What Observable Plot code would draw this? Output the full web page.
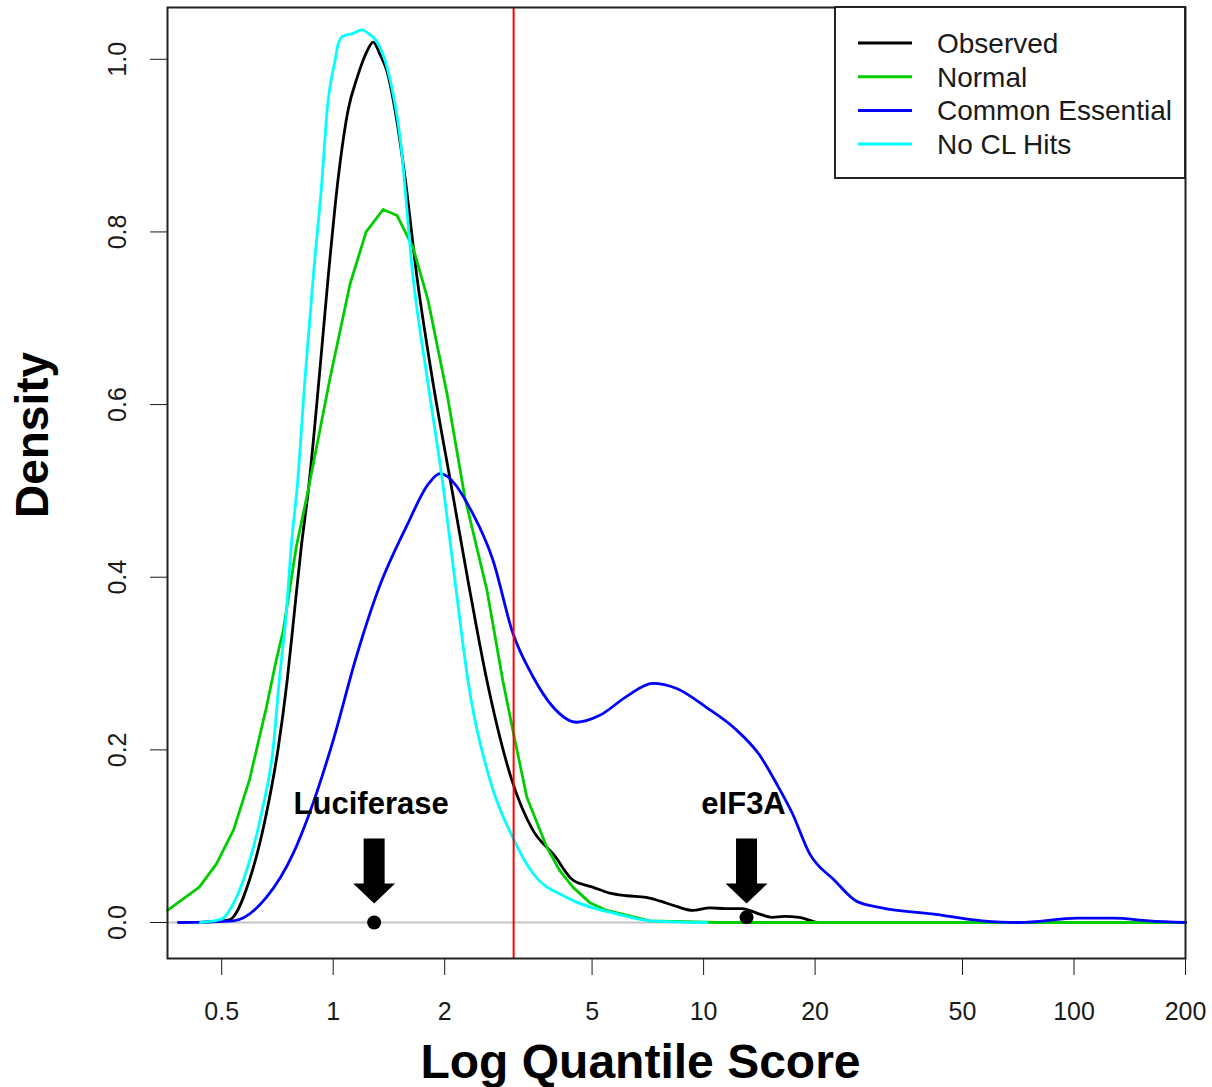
<!DOCTYPE html>
<html><head><meta charset="utf-8">
<script src="https://cdn.jsdelivr.net/npm/d3@7"></script>
<script src="https://cdn.jsdelivr.net/npm/@observablehq/plot@0.6"></script>
<style>body{margin:0;background:#fff;} #chart{width:1212px;height:1087px;}</style>
</head><body><div id="chart"></div>
<script>
// ---- data ----
const xTicks = [0.5, 1, 2, 5, 10, 20, 50, 100, 200];
const yTicks = [0, 0.2, 0.4, 0.6, 0.8, 1.0];
const xTitle = "Log Quantile Score";
const yTitle = "Density";
const seriesNames = ["Observed", "Normal", "Common Essential", "No CL Hits"];
const seriesColors = ["#000000", "#00CD00", "#0000FF", "#00FFFF"];

const observedX = [0.44, 0.524, 0.594, 0.660, 0.711, 0.751, 0.785, 0.820, 0.857, 0.917, 0.969, 1.032, 1.097, 1.161, 1.23, 1.282, 1.34, 1.399, 1.469, 1.563, 1.684, 1.849, 2.093, 2.312, 2.601, 3.036, 3.460, 3.95, 4.44, 5.02, 5.58, 6.2, 7.0, 7.6, 8.4, 9.34, 10.4, 11.5, 12.7, 14.1, 15.3, 16.5, 18.1, 20.5, 30, 60, 120, 200];
const observedY = [0, 0.003, 0.049, 0.126, 0.203, 0.280, 0.358, 0.435, 0.501, 0.632, 0.747, 0.863, 0.941, 0.979, 1.008, 1.020, 1.005, 0.985, 0.941, 0.863, 0.747, 0.632, 0.501, 0.396, 0.280, 0.165, 0.107, 0.078, 0.049, 0.041, 0.034, 0.031, 0.029, 0.025, 0.019, 0.014, 0.017, 0.016, 0.016, 0.010, 0.006, 0.007, 0.006, 0, 0, 0, 0, 0];

const normalX = [0.357, 0.435, 0.484, 0.538, 0.594, 0.660, 0.702, 0.733, 0.795, 0.856, 0.982, 1.111, 1.227, 1.364, 1.488, 1.643, 1.803, 2.028, 2.268, 2.601, 2.871, 3.095, 3.333, 3.775, 4.09, 4.436, 4.93, 5.48, 7.15, 11.0, 200];
const normalY = [0.014, 0.041, 0.068, 0.107, 0.165, 0.249, 0.304, 0.338, 0.435, 0.501, 0.632, 0.740, 0.800, 0.826, 0.819, 0.782, 0.721, 0.613, 0.492, 0.385, 0.280, 0.211, 0.145, 0.087, 0.060, 0.041, 0.023, 0.014, 0.002, 0, 0];

const commonX = [0.382, 0.538, 0.660, 0.780, 0.862, 1.0, 1.153, 1.330, 1.574, 1.814, 1.941, 2.38, 2.699, 3.056, 3.460, 3.917, 4.545, 5.245, 6.20, 7.29, 8.46, 10.19, 12.12, 14.16, 15.73, 17.38, 19.31, 22.55, 25.8, 30.3, 41.4, 56.5, 71.1, 102.5, 127.4, 159.2, 200];
const commonY = [0, 0.002, 0.029, 0.080, 0.126, 0.211, 0.307, 0.388, 0.458, 0.509, 0.520, 0.474, 0.420, 0.335, 0.285, 0.250, 0.232, 0.240, 0.262, 0.277, 0.271, 0.249, 0.225, 0.194, 0.161, 0.126, 0.080, 0.049, 0.025, 0.017, 0.010, 0.002, 0, 0.005, 0.005, 0.002, 0];

const noHitsX = [0.438, 0.50, 0.538, 0.572, 0.640, 0.689, 0.715, 0.747, 0.770, 0.800, 0.840, 0.883, 0.934, 0.963, 1.012, 1.032, 1.064, 1.132, 1.197, 1.243, 1.314, 1.399, 1.52, 1.643, 1.792, 1.980, 2.132, 2.312, 2.650, 3.056, 3.460, 4.27, 5.83, 7.15, 10.19];
const noHitsY = [0, 0.004, 0.022, 0.049, 0.126, 0.203, 0.280, 0.358, 0.435, 0.506, 0.632, 0.747, 0.863, 0.941, 0.999, 1.018, 1.027, 1.030, 1.034, 1.030, 1.020, 0.990, 0.905, 0.747, 0.632, 0.506, 0.396, 0.280, 0.165, 0.098, 0.057, 0.029, 0.010, 0.002, 0];

const threshold = 3.07;
const annotLabels = ["Luciferase", "eIF3A"];
const annotX = [1.29, 13.06];
const annotY = [0, 0.006];

// ---- build ----
const rows = (xs, ys) => xs.map((x, i) => ({x, y: ys[i]}));
const seriesData = [rows(observedX, observedY), rows(normalX, normalY), rows(commonX, commonY), rows(noHitsX, noHitsY)];
const seriesCurves = ["monotone-x", "linear", "monotone-x", "monotone-x"];
const annots = annotLabels.map((label, i) => ({label, x: annotX[i], y: annotY[i]}));

const arrowSymbol = {
  draw(ctx) {
    ctx.moveTo(-10.5, -65);
    ctx.lineTo(10.5, -65);
    ctx.lineTo(10.5, -20);
    ctx.lineTo(21, -20);
    ctx.lineTo(0, 0);
    ctx.lineTo(-21, -20);
    ctx.lineTo(-10.5, -20);
    ctx.closePath();
  }
};

const W = 1212, H = 1087;
const mL = 167, mR = 27, mT = 7, mB = 129;
const font = "'Liberation Sans', Arial, Helvetica, sans-serif";

const plot = Plot.plot({
  width: W, height: H,
  marginLeft: mL, marginRight: mR, marginTop: mT, marginBottom: mB,
  style: {fontFamily: font, fontSize: "25px", color: "#1a1a1a", background: "white"},
  x: {type: "log", domain: [0.357, 200], ticks: xTicks, tickSize: 17, tickFormat: () => "", label: null},
  y: {domain: [-0.0417, 1.060], ticks: yTicks, tickSize: 17, tickFormat: () => "", label: null},
  marks: [
    Plot.ruleY([0], {stroke: "#c4c4c4", strokeWidth: 2}),
    ...seriesData.map((d, i) => Plot.line(d, {x: "x", y: "y", stroke: seriesColors[i], strokeWidth: 2.8, curve: seriesCurves[i]})),
    Plot.ruleX([threshold], {stroke: "#FF0000", strokeWidth: 2}),
    Plot.dot(annots, {x: "x", y: "y", r: 7, fill: "black", stroke: "none"}),
    Plot.dot(annots, {x: "x", y: 0, r: 10, symbol: arrowSymbol, fill: "black", stroke: "none", dy: -19}),
    Plot.text(annots, {x: "x", y: 0, text: "label", dy: -118, dx: -3, fontSize: 31, fontWeight: "bold", fill: "black"}),
    Plot.text(xTicks, {x: d => d, frameAnchor: "bottom", textAnchor: "middle", lineAnchor: "middle", dy: 53, text: d => String(d), fontSize: 25, fill: "#1a1a1a"}),
    Plot.text(yTicks, {y: d => d, frameAnchor: "left", textAnchor: "middle", lineAnchor: "middle", dx: -50, rotate: -90, text: d => d.toFixed(1), fontSize: 25, fill: "#1a1a1a"}),
    Plot.text([xTitle], {frameAnchor: "bottom", textAnchor: "middle", lineAnchor: "middle", text: d => d, dy: 104, dx: -36, fontSize: 48, fontWeight: "bold", fill: "black"}),
    Plot.text([yTitle], {frameAnchor: "left", textAnchor: "middle", lineAnchor: "middle", text: d => d, dx: -134, dy: -48, rotate: -90, fontSize: 46, fontWeight: "bold", fill: "black"}),
    Plot.frame({stroke: "#222", strokeWidth: 2})
  ]
});
document.getElementById("chart").appendChild(plot);

// ---- legend (top-right, inside frame) ----
const svg = d3.select(plot);
const legW = 350, legH = 171;
const legX = W - mR - legW, legY = mT;
const g = svg.append("g").attr("font-family", font).attr("text-anchor", "start");
g.append("rect").attr("x", legX).attr("y", legY).attr("width", legW).attr("height", legH)
  .attr("fill", "white").attr("stroke", "#222").attr("stroke-width", 2);
seriesNames.forEach((name, i) => {
  const yy = legY + 36 + i * 33.7;
  g.append("line").attr("x1", legX + 23).attr("x2", legX + 77).attr("y1", yy).attr("y2", yy)
    .attr("stroke", seriesColors[i]).attr("stroke-width", 3);
  g.append("text").attr("x", legX + 102).attr("y", yy).attr("dy", "0.35em")
    .attr("text-anchor", "start").attr("font-size", 28).attr("fill", "#1a1a1a").text(name);
});
</script>
</body></html>
